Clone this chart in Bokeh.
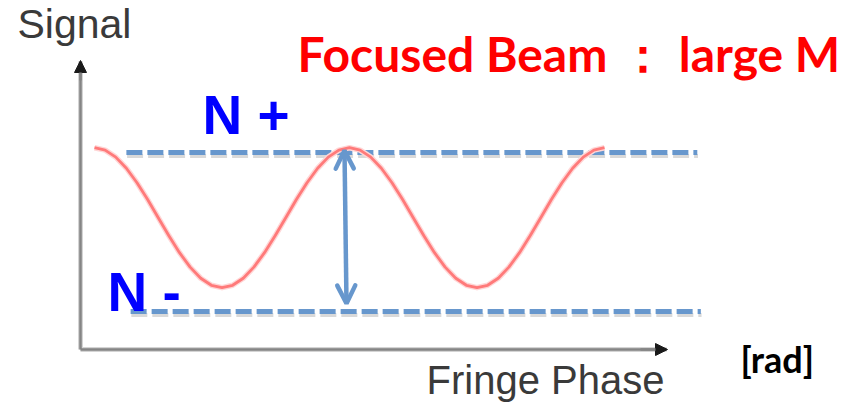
from bokeh.plotting import figure
from bokeh.models import Range1d, Label, Arrow, OpenHead, NormalHead, ColumnDataSource
from bokeh.embed import file_html
from bokeh.resources import INLINE

# ---------------- data ----------------
# fringe phase in degrees (two full fringes)
phase_deg = [0, 15, 30, 45, 60, 75, 90, 105, 120, 135, 150, 165,
             180, 195, 210, 225, 240, 255, 270, 285, 300, 315, 330, 345,
             360, 375, 390, 405, 420, 435, 450, 465, 480, 495, 510, 525,
             540, 555, 570, 585, 600, 615, 630, 645, 660, 675, 690, 705, 720]
# signal (N- level = 0, N+ level = 1)
signal = [1.030, 1.015, 0.971, 0.901, 0.810, 0.704, 0.590, 0.476, 0.370, 0.279, 0.209, 0.165,
          0.150, 0.165, 0.209, 0.279, 0.370, 0.476, 0.590, 0.704, 0.810, 0.901, 0.971, 1.015,
          1.030, 1.015, 0.971, 0.901, 0.810, 0.704, 0.590, 0.476, 0.370, 0.279, 0.209, 0.165,
          0.150, 0.165, 0.209, 0.279, 0.370, 0.476, 0.590, 0.704, 0.810, 0.901, 0.971, 1.015, 1.030]
# reference levels
level_names = ["N +", "N -"]
level_values = [1.0, 0.0]
level_x_start = [45.0, 51.0]
level_x_end = [851.0, 856.0]

title_text = "Focused Beam \uff1a large M"
y_label = "Signal"
x_label = "Fringe Phase"
x_unit = "[rad]"

# ---------------- layout helpers (picture pixels -> data) ----------------
X0_PX = 94.0
PX_PER_DEG = 255.0 / 360.0
Y0_PX = 311.0
PX_PER_UNIT = 159.0
W, H = 854, 403


def px_x(X):
    return (X - X0_PX) / PX_PER_DEG


def px_y(Y):
    return (Y0_PX - Y) / PX_PER_UNIT


p = figure(width=W, height=H, x_range=Range1d(px_x(0), px_x(W)),
           y_range=Range1d(px_y(H), px_y(0)),
           output_backend="svg", toolbar_location=None, min_border=0,
           x_axis_type=None, y_axis_type=None)
p.grid.visible = False
p.outline_line_color = None
p.background_fill_color = "white"
p.border_fill_color = "white"

# axes (arrows)
ax_x0, ax_y0 = px_x(80), px_y(349)
for lw, col in [(5, "#d4d4d4"), (2.5, "#858585")]:
    p.add_layout(Arrow(x_start=ax_x0, y_start=ax_y0, x_end=ax_x0, y_end=px_y(61),
                       line_color=col, line_width=lw, end=None))
    p.add_layout(Arrow(x_start=ax_x0, y_start=ax_y0, x_end=px_x(666), y_end=ax_y0,
                       line_color=col, line_width=lw, end=None))
p.add_layout(Arrow(x_start=ax_x0, y_start=px_y(80), x_end=ax_x0, y_end=px_y(60),
                   line_color="#858585", line_width=2.5,
                   end=NormalHead(size=12, fill_color="#1a1a1a", line_color="#1a1a1a", line_width=1)))
p.add_layout(Arrow(x_start=px_x(640), y_start=ax_y0, x_end=px_x(667), y_end=ax_y0,
                   line_color="#858585", line_width=2.5,
                   end=NormalHead(size=12, fill_color="#1a1a1a", line_color="#1a1a1a", line_width=1)))

# dashed reference levels with shadow
shadow_dy = 3.6 / PX_PER_UNIT
for xs, xe, lv in zip(level_x_start, level_x_end, level_values):
    p.line([xs + 1.0, xe + 1.0], [lv - shadow_dy, lv - shadow_dy], line_color="#d9d9d9",
           line_width=4, line_dash="16 5")
    p.line([xs, xe], [lv, lv], line_color="#6797cd", line_width=5, line_dash="16 5")

# fringe signal
src = ColumnDataSource(dict(phase=phase_deg, signal=signal))
p.line("phase", "signal", source=src, line_color="#ffd6d6", line_width=5.5, line_join="round")
p.line("phase", "signal", source=src, line_color="#ff7a7a", line_width=2.8, line_join="round")

# amplitude double arrow
p.add_layout(Arrow(x_start=px_x(344), y_start=px_y(150), x_end=px_x(346), y_end=px_y(303),
                   line_color="#6797cd", line_width=4.5,
                   start=OpenHead(size=18, line_color="#6797cd", line_width=4.5, line_cap="round"),
                   end=OpenHead(size=18, line_color="#6797cd", line_width=4.5, line_cap="round")))

# texts
p.add_layout(Label(x=px_x(17), y=px_y(23), text=y_label, text_font="Liberation Sans",
                   text_font_size="41px", text_color="#3a3a3a", text_baseline="alphabetic"))
p.add_layout(Label(x=px_x(426), y=px_y(379), text=x_label, text_font="Liberation Sans",
                   text_font_size="40px", text_color="#3a3a3a", text_baseline="alphabetic"))
p.add_layout(Label(x=px_x(740), y=px_y(358), text=x_unit, text_font="Lato",
                   text_font_style="bold", text_font_size="36px", text_color="black",
                   text_baseline="alphabetic"))
p.add_layout(Label(x=px_x(297), y=px_y(53), text=title_text, text_font="Lato",
                   text_font_style="bold", text_font_size="48px", text_color="#ff0000",
                   text_baseline="alphabetic"))
p.add_layout(Label(x=px_x(202), y=px_y(114), text=level_names[0], text_font="Liberation Sans",
                   text_font_style="bold", text_font_size="55px", text_color="#0000ff",
                   text_baseline="alphabetic"))
p.add_layout(Label(x=px_x(107), y=px_y(291), text=level_names[1], text_font="Liberation Sans",
                   text_font_style="bold", text_font_size="55px", text_color="#0000ff",
                   text_baseline="alphabetic"))

open("out.html", "w").write(file_html(p, INLINE))
